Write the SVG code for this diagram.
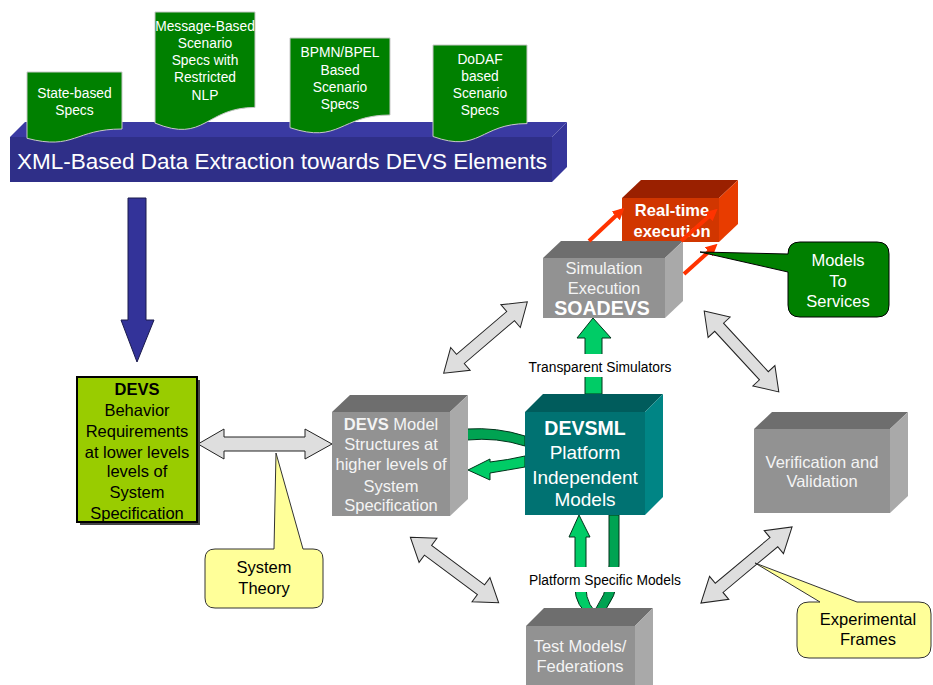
<svg xmlns="http://www.w3.org/2000/svg" xmlns:xlink="http://www.w3.org/1999/xlink" width="933" height="685" viewBox="0 0 933 685">
<style>
text{font-family:"Liberation Sans",Arial,sans-serif;text-anchor:middle}
.doc{fill:#008000;stroke:#c8c8c8;stroke-width:1}
.dt{fill:#fff;font-size:13.8px}
.gf{fill:#929292}.gt{fill:#6e6e6e}.gr{fill:#a9a9a9}
.bt{fill:#f4f4f4;font-size:16.5px}
.dbl{fill:#dedede;stroke:#222;stroke-width:1}
.g1{fill:#00cc66;stroke:#00331a;stroke-width:1}
.g2{fill:#00a352;stroke:#00331a;stroke-width:1}
.red{stroke:#ff3300;stroke-width:4;fill:none}
.lbl{fill:#000;font-size:13.8px}
.yel{fill:#ffff99;stroke:#333;stroke-width:1}
.ct{fill:#000;font-size:16.5px}
</style>
<defs>
<polygon id="dblA" class="dbl" points="-55,0 -33,-15 -33,-6 33,-6 33,-15 55,0 33,15 33,6 -33,6 -33,15"/>
<marker id="rh" viewBox="0 0 10 10" refX="6" refY="5" markerWidth="3" markerHeight="3" orient="auto"><path d="M0,0 L10,5 L0,10 z" fill="#ff3300"/></marker>
</defs>
<rect width="933" height="685" fill="#fff"/>

<g id="xml-bar">
<polygon points="10,137 25,122 567,122 552,137" fill="#3a3aa2"/>
<polygon points="552,137 567,122 567,167 552,182" fill="#35359a"/>
<rect x="10" y="137" width="542" height="45" fill="#2f2f88"/>
<text x="282" y="169" fill="#fff" font-size="22.5">XML-Based Data Extraction towards DEVS Elements</text>
</g>

<g id="doc-state">
<path class="doc" d="M27,72 H122 V129 C74.5,129 74.5,150.6 27,138.3 Z"/>
<text class="dt" x="74.5" y="98">State-based</text>
<text class="dt" x="74.5" y="115">Specs</text>
</g>
<g id="doc-message">
<path class="doc" d="M155,12 H255 V107.4 C205,107.4 205,143.7 155,123.1 Z"/>
<text class="dt" x="205" y="31">Message-Based</text>
<text class="dt" x="205" y="48">Scenario</text>
<text class="dt" x="205" y="65">Specs with</text>
<text class="dt" x="205" y="82">Restricted</text>
<text class="dt" x="205" y="100">NLP</text>
</g>
<g id="doc-bpmn">
<path class="doc" d="M290,38 H390 V115 C340,115 340,144.3 290,127.7 Z"/>
<text class="dt" x="340" y="57">BPMN/BPEL</text>
<text class="dt" x="340" y="75">Based</text>
<text class="dt" x="340" y="92">Scenario</text>
<text class="dt" x="340" y="109">Specs</text>
</g>
<g id="doc-dodaf">
<path class="doc" d="M433,45 H527 V123.6 C480,123.6 480,153.5 433,136.5 Z"/>
<text class="dt" x="480" y="64">DoDAF</text>
<text class="dt" x="480" y="81">based</text>
<text class="dt" x="480" y="98">Scenario</text>
<text class="dt" x="480" y="115">Specs</text>
</g>

<g id="connectors">
<polygon points="128,198 146,198 146,320 154,320 137,362 121,320 128,320" fill="#333399" stroke="#1a1a4d" stroke-width="1"/>
<polygon class="dbl" points="198,444 224,429 224,437 305,437 305,429 332,444 305,459 305,451 224,451 224,459"/>
<use xlink:href="#dblA" transform="translate(485.5,337.5) rotate(-40.5)"/>
<use xlink:href="#dblA" transform="translate(741.5,351.5) rotate(47.3)"/>
<use xlink:href="#dblA" transform="translate(454.5,570) rotate(36.6)"/>
<use xlink:href="#dblA" transform="translate(746.5,565) rotate(-39.9) scale(1.08,1)"/>
<path class="g2" d="M467,429 Q497,427 525,436 L525,446 Q497,437 467,440 Z"/>
<path class="g1" d="M525,456 Q508,460 490,462 L490,459 L468,470 L490,480 L490,473 Q508,470 525,467 Z"/>
<polygon class="g1" points="593,318 611,338 602,338 602,394 585,394 585,338 577,338"/>
<path class="g1" d="M579,515 L590,537 L586,537 V588 Q586,606 602,618 L592,618 Q575,606 575,588 V537 L569,537 Z"/>
<path class="g2" d="M609,515 H619 V565 Q619,600 597,618 L587,618 Q609,598 609,565 Z"/>
<rect x="524" y="354" width="152" height="23" fill="#fff"/>
<text class="lbl" x="600" y="372">Transparent Simulators</text>
<rect x="524" y="567" width="162" height="25" fill="#fff"/>
<text class="lbl" x="605" y="585">Platform Specific Models</text>
</g>

<g id="devs-behavior">
<rect x="80" y="380" width="120" height="145" fill="#444"/>
<rect x="77" y="377" width="120" height="145" fill="#99cc00" stroke="#000" stroke-width="2"/>
<text x="137" y="395" font-size="16.5" font-weight="bold">DEVS</text>
<text x="137" y="416" font-size="16.5">Behavior</text>
<text x="137" y="437" font-size="16.5">Requirements</text>
<text x="137" y="458" font-size="16.5">at lower levels</text>
<text x="137" y="477" font-size="16.5">levels of</text>
<text x="137" y="498" font-size="16.5">System</text>
<text x="137" y="519" font-size="16.5">Specification</text>
</g>

<g id="devs-model">
<polygon class="gt" points="332,412 350,395 468,395 450,412"/>
<polygon class="gr" points="450,412 468,395 468,499 450,516"/>
<rect class="gf" x="332" y="412" width="118" height="104"/>
<text class="bt" x="391" y="430"><tspan font-weight="bold">DEVS</tspan> Model</text>
<text class="bt" x="391" y="450">Structures at</text>
<text class="bt" x="391" y="470">higher levels of</text>
<text class="bt" x="391" y="492">System</text>
<text class="bt" x="391" y="511">Specification</text>
</g>

<g id="devsml">
<polygon points="525,412 543,394 663,394 645,412" fill="#005c5c"/>
<polygon points="645,412 663,394 663,497 645,515" fill="#008585"/>
<rect x="525" y="412" width="120" height="103" fill="#007272"/>
<text x="585" y="435" fill="#fff" font-size="19.5" font-weight="bold">DEVSML</text>
<text x="585" y="459" fill="#fff" font-size="19">Platform</text>
<text x="585" y="484" fill="#fff" font-size="19">Independent</text>
<text x="585" y="506" fill="#fff" font-size="19">Models</text>
</g>

<g id="realtime">
<polygon points="622,198 641,180 738,180 719,198" fill="#9a2000"/>
<polygon points="719,198 738,180 738,224 719,242" fill="#e83c00"/>
<rect x="622" y="198" width="97" height="44" fill="#d13600"/>
<text x="672" y="216" fill="#fff" font-size="16.5" font-weight="bold">Real-time</text>
<text x="672" y="237" fill="#fff" font-size="16.5" font-weight="bold">execution</text>
</g>

<g id="soadevs">
<polygon class="gt" points="543,258 561,241 683,241 665,258"/>
<polygon class="gr" points="665,258 683,241 683,301 665,318"/>
<rect class="gf" x="543" y="258" width="122" height="60"/>
<text class="bt" x="604" y="274">Simulation</text>
<text class="bt" x="604" y="294">Execution</text>
<text x="602" y="315" fill="#fff" font-size="19.5" font-weight="bold">SOADEVS</text>
</g>

<g id="red-arrows">
<line class="red" x1="589" y1="241" x2="621" y2="211" marker-end="url(#rh)"/>
<line class="red" x1="681" y1="241" x2="714" y2="212" marker-end="url(#rh)"/>
<line class="red" x1="684" y1="274" x2="714" y2="247" marker-end="url(#rh)"/>
</g>

<g id="models-to-services">
<path d="M800,242 H877 Q889,242 889,254 V305 Q889,317 877,317 H800 Q788,317 788,305 V272 L700,252 L788,254 Q788,242 800,242 Z" fill="#008000" stroke="#000" stroke-width="1"/>
<text x="838" y="266" fill="#fff" font-size="16.5">Models</text>
<text x="838" y="287" fill="#fff" font-size="16.5">To</text>
<text x="838" y="307" fill="#fff" font-size="16.5">Services</text>
</g>

<g id="verification">
<polygon class="gt" points="754,429 772,412 908,412 890,429"/>
<polygon class="gr" points="890,429 908,412 908,496 890,513"/>
<rect class="gf" x="754" y="429" width="136" height="84"/>
<text class="bt" x="822" y="468">Verification and</text>
<text class="bt" x="822" y="487">Validation</text>
</g>

<g id="test-models">
<polygon class="gt" points="526,626 544,608 653,608 635,626"/>
<polygon class="gr" points="635,626 653,608 653,690 635,690"/>
<rect class="gf" x="526" y="626" width="109" height="64"/>
<text class="bt" x="580" y="652">Test Models/</text>
<text class="bt" x="580" y="672">Federations</text>
</g>

<g id="system-theory">
<path class="yel" d="M215,549 H274 L276,453 L303,549 H313 Q323,549 323,559 V598 Q323,608 313,608 H215 Q205,608 205,598 V559 Q205,549 215,549 Z"/>
<text class="ct" x="264" y="573">System</text>
<text class="ct" x="264" y="594">Theory</text>
</g>

<g id="experimental-frames">
<path class="yel" d="M809,602 H820 L755,563 L857,602 H919 Q931,602 931,614 V646 Q931,658 919,658 H809 Q797,658 797,646 V614 Q797,602 809,602 Z"/>
<text class="ct" x="868" y="625">Experimental</text>
<text class="ct" x="868" y="645">Frames</text>
</g>
</svg>
